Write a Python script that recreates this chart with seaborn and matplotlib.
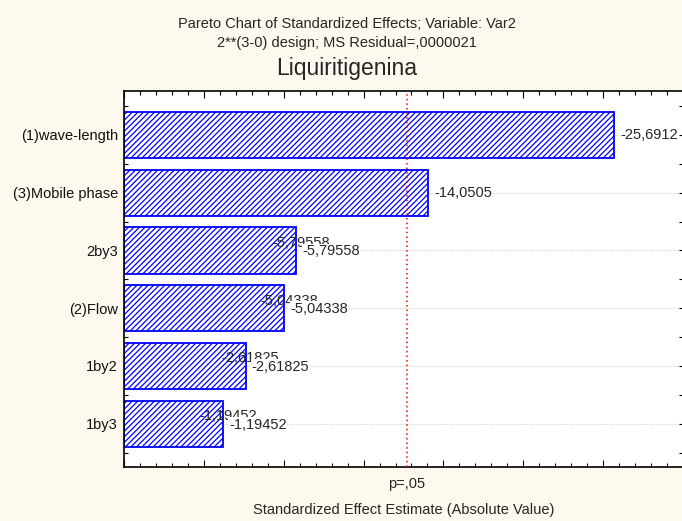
import matplotlib
matplotlib.use("Agg")
import matplotlib.pyplot as plt
from matplotlib.ticker import MultipleLocator, FixedLocator, NullFormatter
import numpy as np
import pandas as pd
import seaborn as sns

# Pareto chart data: effect names and their standardized estimates
effects = ["(1)wave-length", "(3)Mobile phase", "2by3", "(2)Flow", "1by2", "1by3"]
estimates = [-25.6912, -14.0505, -5.79558, -5.04338, -2.61825, -1.19452]
value_labels = ["-25,6912", "-14,0505", "-5,79558", "-5,04338", "-2,61825", "-1,19452"]
# effects whose value label is printed twice (inside and outside the bar end)
doubled = [False, False, True, True, True, True]
p_critical = 12.7062  # t(0.975, df=1)
x_range = (-5, 30)

title_lines = ["Pareto Chart of Standardized Effects; Variable: Var2",
               "2**(3-0) design; MS Residual=,0000021"]
main_title = "Liquiritigenina"
p_label = "p=,05"
x_label = "Standardized Effect Estimate (Absolute Value)"

df = pd.DataFrame({"effect": effects, "estimate": estimates})
df["abs_estimate"] = df["estimate"].abs()

sns.set_style("white")
plt.rcParams["font.family"] = ["Liberation Sans", "DejaVu Sans"]
plt.rcParams["hatch.color"] = "#0000FF"
plt.rcParams["hatch.linewidth"] = 0.9

W, H, DPI = 682, 521, 100
fig = plt.figure(figsize=(W / DPI, H / DPI), dpi=DPI, facecolor="#FDF9EE")
ax = fig.add_axes([124 / W, 1 - 467 / H, 559 / W, 376 / H])
ax.set_facecolor("white")

sns.barplot(data=df, x="abs_estimate", y="effect", orient="h", ax=ax,
            color="white", saturation=1, edgecolor="#0000FF", linewidth=1.3,
            hatch="//////", width=0.8, errorbar=None, zorder=2)

# bars are anchored at the left edge of the axis range
for patch in ax.patches:
    right = patch.get_x() + patch.get_width()
    patch.set_x(x_range[0])
    patch.set_width(right - x_range[0])

ax.set_xlim(*x_range)
ax.set_ylim(len(effects) - 0.25, -0.76)

# critical value line
ax.axvline(p_critical, color="#FF0000", linestyle=(0, (1, 2)), linewidth=1.1, zorder=3)

# light horizontal guide lines at each effect
ax.set_axisbelow(True)
ax.grid(axis="y", which="major", color="#d6d6d6", linestyle=(0, (1, 1)), linewidth=0.8)
ax.grid(axis="x", visible=False)

# value labels
fs = 10.5
box = dict(facecolor="white", edgecolor="none", pad=0.5)
for i, (val, lab, dbl) in enumerate(zip(df["abs_estimate"], value_labels, doubled)):
    if dbl:
        ax.annotate(lab, xy=(val, i), xytext=(-24, 7.5), textcoords="offset pixels",
                    ha="left", va="center", fontsize=fs, zorder=4)
        ax.annotate(lab, xy=(val, i), xytext=(6, -1), textcoords="offset pixels",
                    ha="left", va="center", fontsize=fs, zorder=4, bbox=box)
    else:
        ax.annotate(lab, xy=(val, i), xytext=(6, 0), textcoords="offset pixels",
                    ha="left", va="center", fontsize=fs, zorder=4, bbox=box)

# axes frame and ticks
for side in ["left", "top", "bottom"]:
    ax.spines[side].set_visible(True)
    ax.spines[side].set_color("black")
    ax.spines[side].set_linewidth(1.2)
ax.spines["right"].set_visible(False)

ax.set_yticks(range(len(effects)))
ax.set_yticklabels(effects, fontsize=fs, fontweight="normal", color="#111111")
ax.xaxis.set_major_locator(MultipleLocator(5))
ax.xaxis.set_minor_locator(MultipleLocator(1))
ax.yaxis.set_minor_locator(FixedLocator(np.arange(-0.5, len(effects), 1.0)))
ax.yaxis.set_minor_formatter(NullFormatter())
ax.tick_params(axis="x", which="both", direction="in", top=True, bottom=True,
               labelbottom=False, labeltop=False, width=0.8, color="black")
ax.tick_params(axis="x", which="major", length=5)
ax.tick_params(axis="x", which="minor", length=3)
ax.tick_params(axis="y", which="both", direction="in", left=True, right=True,
               labelright=False, width=0.8, color="black", length=3)
ax.tick_params(axis="y", which="major", pad=4.3)
ax.set_xlabel("")
ax.set_ylabel("")

# headings
cx = 347 / W
fig.text(cx, 1 - 28 / H, title_lines[0], ha="center", va="baseline", fontsize=fs)
fig.text(cx, 1 - 47 / H, title_lines[1], ha="center", va="baseline", fontsize=fs)
fig.text(cx, 1 - 75 / H, main_title, ha="center", va="baseline", fontsize=16.5)

ax.annotate(p_label, xy=(p_critical, 0), xycoords=ax.get_xaxis_transform(),
            xytext=(0, -21), textcoords="offset pixels", ha="center", va="baseline",
            fontsize=fs, annotation_clip=False)
fig.text(0.5 * (124 + 683) / W, 1 - 514 / H, x_label, ha="center", va="baseline", fontsize=fs)

fig.savefig("out.png", dpi=DPI, facecolor=fig.get_facecolor())
